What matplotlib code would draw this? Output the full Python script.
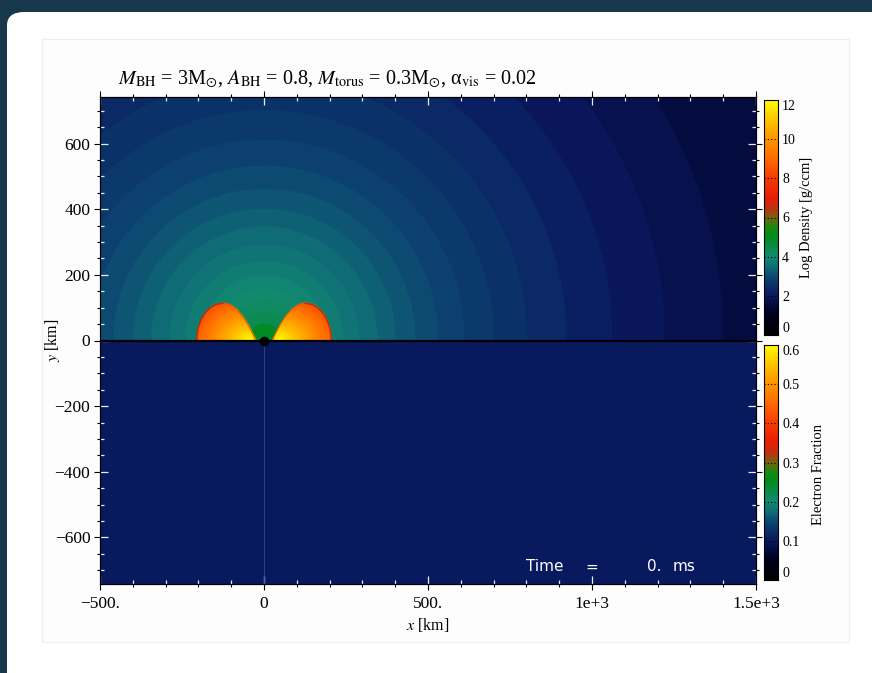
import matplotlib
matplotlib.use("Agg")
import matplotlib.pyplot as plt
import numpy as np
from matplotlib.colors import LinearSegmentedColormap, Normalize
from matplotlib.patches import FancyBboxPatch, Rectangle
from matplotlib.ticker import MultipleLocator, FixedLocator

plt.rcParams['font.family'] = ['Liberation Serif', 'DejaVu Serif']
plt.rcParams['mathtext.fontset'] = 'stix'

# --- data ---
# density atmosphere: outer radius of each constant ring [km] and its log density
ring_outer_r = [50, 85, 120, 155, 195, 240, 290, 345, 400, 460, 530, 610, 700,
                800, 920, 1060, 1220, 1400, 1700]
ring_logrho = [4.9, 4.4, 4.2, 4.05, 3.9, 3.75, 3.6, 3.45, 3.3, 3.15, 3.0, 2.85,
               2.7, 2.55, 2.35, 2.15, 1.95, 1.75, 1.55]
outer_logrho = 1.35

# torus lobes (symmetric about x = 0)
torus_r_in = 25.0      # inner foot [km]
torus_r_peak = 125.0   # radius of the top [km]
torus_r_out = 205.0    # outer foot [km]
torus_height = 113.0   # [km]
torus_r_max = 45.0     # densest spot on the equator [km]
torus_logrho_max = 11.9
torus_logrho_min = 8.6

# lower half: electron fraction
ye_value = 0.1

x_ticks = [-500, 0, 500, 1000, 1500]
x_ticklabels = ['\u2212500.', '0', '500.', '1e+3', '1.5e+3']
y_ticks = [-600, -400, -200, 0, 200, 400, 600]
y_ticklabels = ['\u2212600', '\u2212400', '\u2212200', '0', '200', '400', '600']
rho_ticks = [0, 2, 4, 6, 8, 10, 12]
ye_ticks = [0, 0.1, 0.2, 0.3, 0.4, 0.5, 0.6]
ye_ticklabels = ['0', '0.1', '0.2', '0.3', '0.4', '0.5', '0.6']

XLIM = (-500, 1500)
YLIM = (-742, 742)

# colormap (black - navy - teal - green - red - orange - yellow)
stops = [(0.0, '#000000'), (1.0, '#00001c'), (1.5, '#030a3c'), (2.0, '#0a1a60'),
         (2.5, '#0b3068'), (3.0, '#0d4a72'), (3.5, '#107076'), (4.0, '#128a70'),
         (4.5, '#0c8a48'), (5.0, '#008c1c'), (5.5, '#1a8a10'), (6.0, '#7a6010'),
         (6.5, '#c03010'), (7.0, '#e81e05'), (8.0, '#f43c00'), (9.0, '#ff6a00'),
         (10.0, '#ff9400'), (11.0, '#ffc400'), (12.0, '#ffff00')]
cmap = LinearSegmentedColormap.from_list('dens', [(v / 12.0, c) for v, c in stops])

# --- density field on a grid ---
gx = np.linspace(XLIM[0], XLIM[1], 1001)
gy = np.linspace(0, YLIM[1], 372)
X, Y = np.meshgrid(gx, gy)
R = np.hypot(X, Y)
rho = np.full(R.shape, outer_logrho)
for r_o, lv in zip(ring_outer_r[::-1], ring_logrho[::-1]):
    rho[R <= r_o] = lv

ax_abs = np.abs(X)
s = np.clip(Y / torus_height, 0, 1)
r_in_y = torus_r_peak - (torus_r_peak - torus_r_in) * np.sqrt(1 - s)
r_out_y = torus_r_peak + (torus_r_out - torus_r_peak) * np.sqrt(1 - s ** 2)
inside = (Y <= torus_height) & (ax_abs >= r_in_y) & (ax_abs <= r_out_y)
a_r = np.where(ax_abs > torus_r_max, 150.0, 80.0)
d = np.sqrt(((ax_abs - torus_r_max) / a_r) ** 2 + (Y / 110.0) ** 2)
torus_val = np.clip(torus_logrho_max - 3.0 * d, torus_logrho_min, 12)
rho[inside] = torus_val[inside]

ye = np.full((10, 10), ye_value)

# --- figure ---
W, H = 872, 673
fig = plt.figure(figsize=(W / 100, H / 100), dpi=100)
fig.patch.set_facecolor('#16384a')

def fx(px):
    return px / W

def fy(py):
    return 1 - py / H

fig.patches.append(FancyBboxPatch((fx(7), fy(700)), fx(900), fy(12) - fy(700),
                                  boxstyle='round,pad=0,rounding_size=0.02',
                                  transform=fig.transFigure, facecolor='white',
                                  edgecolor='none', zorder=-10))
fig.patches.append(Rectangle((fx(42), fy(642)), fx(849) - fx(42), fy(39) - fy(642),
                             transform=fig.transFigure, facecolor='#fdfdfd',
                             edgecolor='#eeeeee', lw=0.8, zorder=-9))

pos = [fx(100), fy(584), fx(756) - fx(100), fy(97) - fy(584)]
ax = fig.add_axes(pos)
ax.imshow(rho, cmap=cmap, norm=Normalize(0, 12), origin='lower',
          extent=[XLIM[0], XLIM[1], 0, YLIM[1]], interpolation='bilinear', aspect='auto')
ax.imshow(ye, cmap=cmap, norm=Normalize(0, 0.6), origin='lower',
          extent=[XLIM[0], XLIM[1], YLIM[0], 0], aspect='auto')

# torus rim: dark red outside, orange on the inner flank
yy = np.linspace(0, torus_height, 200)
rin = torus_r_peak - (torus_r_peak - torus_r_in) * np.sqrt(1 - yy / torus_height)
rout = torus_r_peak + (torus_r_out - torus_r_peak) * np.sqrt(1 - (yy / torus_height) ** 2)
for sgn in (-1, 1):
    ax.plot(sgn * rin, yy, color='#e85a00', lw=0.8)
    ax.plot(sgn * rout, yy, color='#c42a06', lw=1.0)

ax.plot([0, 0], [YLIM[0], 0], color='#2a4a9a', lw=0.6)
ax.axhline(0, color='black', lw=1.6)
ax.plot([0], [0], 'o', color='black', ms=6)

ax.set_xlim(XLIM)
ax.set_ylim(YLIM)
ax.xaxis.set_major_locator(FixedLocator(x_ticks))
ax.xaxis.set_minor_locator(MultipleLocator(100))
ax.yaxis.set_major_locator(FixedLocator(y_ticks))
ax.yaxis.set_minor_locator(MultipleLocator(50))
ax.tick_params(which='both', direction='in', color='#e6ecf6', top=True, right=True,
               bottom=True, left=True, labelbottom=False, labelleft=False, width=0.9)
ax.tick_params(which='major', length=6)
ax.tick_params(which='minor', length=3)
for sp in ax.spines.values():
    sp.set_linewidth(0.8)

tkw = dict(transform=ax.transAxes, color='white', family='DejaVu Sans', fontsize=11)
ax.text(0.650, 0.026, 'Time', **tkw)
ax.text(0.740, 0.026, '=', **tkw)
ax.text(0.834, 0.026, '0.', **tkw)
ax.text(0.873, 0.026, 'ms', **tkw)

# outer black ticks + labels on a transparent twin
ax2 = fig.add_axes(pos)
ax2.patch.set_visible(False)
ax2.set_xlim(XLIM)
ax2.set_ylim(YLIM)
ax2.set_xticks(x_ticks)
ax2.set_xticklabels(x_ticklabels)
ax2.set_yticks(y_ticks)
ax2.set_yticklabels(y_ticklabels)
ax2.xaxis.set_minor_locator(MultipleLocator(100))
ax2.yaxis.set_minor_locator(MultipleLocator(50))
ax2.tick_params(which='both', direction='out', color='black', top=True, right=True,
                width=0.8, labelsize=12.5)
ax2.tick_params(which='major', length=4)
ax2.tick_params(which='minor', length=2.5)
ax2.tick_params(axis='y', pad=3)
ax2.tick_params(axis='x', pad=5)
ax2.set_xlabel('$x$ [km]', fontsize=11.5)
ax2.set_ylabel('$y$ [km]', fontsize=11.5)
ax2.xaxis.set_label_coords(0.5, -0.066)
ax2.yaxis.set_label_coords(-0.058, 0.5)
for sp in ax2.spines.values():
    sp.set_linewidth(0.8)

fig.text(fx(118), fy(84),
         r'$M_{\rm BH}$ = 3M$_{\odot}$, $A_{\rm BH}$ = 0.8, $M_{\rm torus}$ = 0.3M$_{\odot}$, '
         r'α$_{\rm vis}$ = 0.02', fontsize=14.6, ha='left', va='baseline')

# colorbars
def colorbar(top, bottom, vmax, ticks, labels, label, label_x, label_y):
    cax = fig.add_axes([fx(764), fy(bottom), fx(778) - fx(764), fy(top) - fy(bottom)])
    grad = np.linspace(0, vmax, 256).reshape(-1, 1)
    cax.imshow(grad, cmap=cmap, norm=Normalize(0, vmax), origin='lower',
               extent=[0, 1, 0, vmax], aspect='auto')
    for t in ticks[1:-1]:
        cax.axhline(t, color='black', ls=(0, (1, 2)), lw=0.8)
    cax.set_xticks([])
    cax.yaxis.tick_right()
    cax.set_yticks(ticks)
    cax.set_yticklabels(labels)
    cax.tick_params(axis='y', length=0, labelsize=10, pad=3)
    tl = cax.get_yticklabels()
    tl[0].set_va('bottom')
    tl[-1].set_va('top')
    cax.set_ylim(0, vmax)
    cax.yaxis.set_label_position('right')
    cax.set_ylabel(label, fontsize=10.5)
    cax.yaxis.set_label_coords(label_x, label_y)
    for sp in cax.spines.values():
        sp.set_linewidth(0.8)

colorbar(100, 335, 12, rho_ticks, [str(t) for t in rho_ticks], 'Log Density [g/ccm]', 2.57, 0.5)
colorbar(345, 580, 0.6, ye_ticks, ye_ticklabels, 'Electron Fraction', 3.43, 0.447)

fig.savefig('out.png', dpi=100, facecolor=fig.get_facecolor())
